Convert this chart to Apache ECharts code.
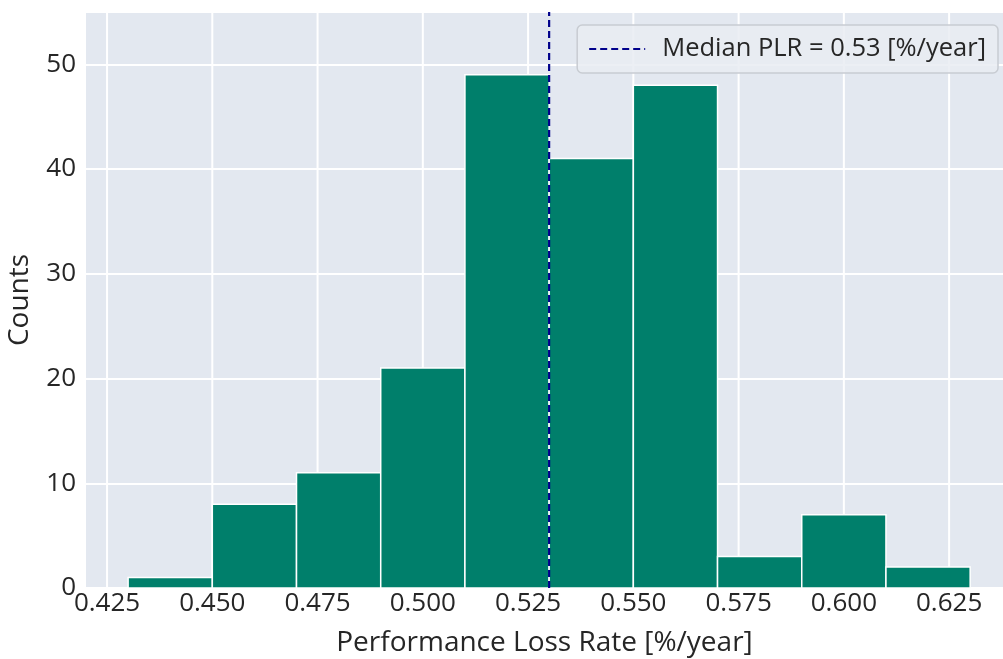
<!DOCTYPE html>
<html><head><meta charset="utf-8">
<script src="https://cdn.jsdelivr.net/npm/echarts@6/dist/echarts.min.js"></script>
<style>html,body{margin:0;padding:0;background:#fff}#c{width:1003px;height:659px}</style>
</head><body><div id="c"></div>
<script>
const binEdges = [0.43, 0.45, 0.47, 0.49, 0.51, 0.53, 0.55, 0.57, 0.59, 0.61, 0.63];
const counts = [1, 8, 11, 21, 49, 41, 48, 3, 7, 2];
const medianPLR = 0.53;
const xTicks = [0.425, 0.45, 0.475, 0.5, 0.525, 0.55, 0.575, 0.6, 0.625];
const yTicks = [0, 10, 20, 30, 40, 50];
const xTitle = 'Performance Loss Rate [%/year]';
const yTitle = 'Counts';
const legendText = 'Median PLR = 0.53 [%/year]';

const histData = counts.map((c, i) => [binEdges[i], binEdges[i + 1], c]);
const font = '"Open Sans", "Noto Sans", sans-serif';
const txt = '#262626';

const chart = echarts.init(document.getElementById('c'), null, {renderer: 'canvas'});
chart.setOption({
  animation: false,
  backgroundColor: '#ffffff',
  grid: {left: 86, right: 0, top: 12, bottom: 71, show: true, backgroundColor: '#e3e8f0', borderWidth: 0,
    containLabel: false, outerBoundsMode: 'none'},
  xAxis: {
    type: 'value', min: 0.42, max: 0.6378,
    axisLine: {show: false}, axisTick: {show: false},
    axisLabel: {show: false},
    splitLine: {show: false},
    name: xTitle, nameLocation: 'middle', nameGap: 41,
    nameTextStyle: {fontFamily: font, fontSize: 28, color: txt}
  },
  yAxis: {
    type: 'value', min: 0, max: 55, interval: 10,
    axisLine: {show: false}, axisTick: {show: false},
    axisLabel: {fontFamily: font, fontSize: 26, color: txt, margin: 10, showMaxLabel: false,
      formatter: v => (yTicks.indexOf(v) >= 0 ? String(v) : '')},
    splitLine: {show: true, lineStyle: {color: '#ffffff', width: 2}},
    name: yTitle, nameLocation: 'middle', nameGap: 52,
    nameTextStyle: {fontFamily: font, fontSize: 28, color: txt}
  },
  legend: {
    show: true, right: 5, top: 25,
    data: [{name: legendText}],
    backgroundColor: 'rgba(233,236,242,0.85)', borderColor: '#c8ccd2', borderWidth: 1.5, borderRadius: 5,
    padding: [11, 12, 11, 11], itemWidth: 56, itemHeight: 14, itemGap: 10,
    itemStyle: {opacity: 0},
    textStyle: {fontFamily: font, fontSize: 25.5, color: txt, padding: [0, 0, 0, 12]}
  },
  series: [
    {
      type: 'custom', name: 'xgrid', silent: true, z: 1,
      data: xTicks.map(v => [v]),
      renderItem: (params, api) => {
        const p0 = api.coord([api.value(0), 0]);
        const p1 = api.coord([api.value(0), 55]);
        return {type: 'group', children: [
          {type: 'line', shape: {x1: p0[0], y1: p0[1], x2: p1[0], y2: p1[1]}, style: {stroke: '#ffffff', lineWidth: 2}},
          {type: 'text', style: {text: api.value(0).toFixed(3), x: p0[0], y: p0[1] + 3, align: 'center', verticalAlign: 'top', font: '26px ' + font, fill: txt}}
        ]};
      }
    },
    {
      type: 'custom', name: 'hist', z: 2,
      data: histData,
      renderItem: (params, api) => {
        const a = api.coord([api.value(0), api.value(2)]);
        const b = api.coord([api.value(1), 0]);
        return {type: 'rect', shape: {x: a[0], y: a[1], width: b[0] - a[0], height: b[1] - a[1]},
          style: {fill: '#007f6b', stroke: '#ffffff', lineWidth: 1.5}};
      }
    },
    {
      type: 'line', name: legendText, z: 5, symbol: 'none',
      data: [[medianPLR, 0], [medianPLR, 55]],
      lineStyle: {color: '#00008b', width: 2.2, type: [7, 4]},
      itemStyle: {color: '#00008b'}
    }
  ]
});
</script></body></html>
